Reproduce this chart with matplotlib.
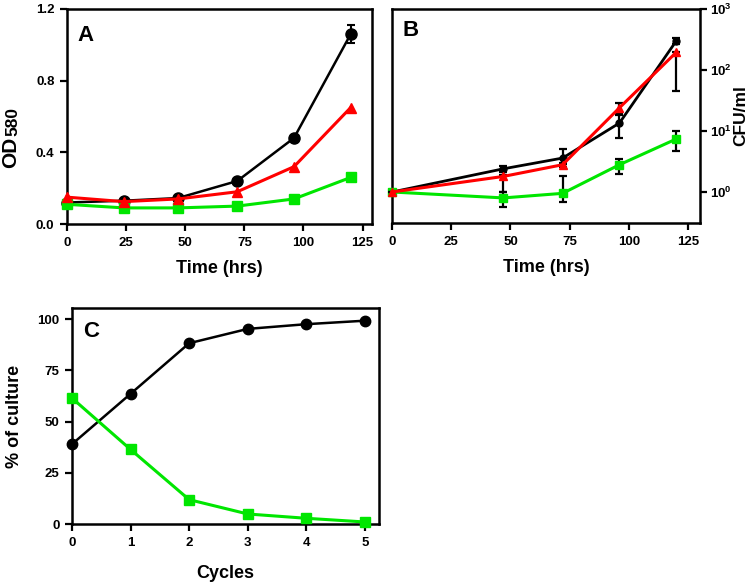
import matplotlib
matplotlib.use("Agg")
import matplotlib.pyplot as plt
import numpy as np
from matplotlib.ticker import FixedLocator, NullLocator, FixedFormatter

plt.rcParams["font.family"] = ["Liberation Sans", "DejaVu Sans"]
plt.rcParams["font.weight"] = "bold"
plt.rcParams["mathtext.fontset"] = "custom"
plt.rcParams["mathtext.rm"] = "Liberation Sans:bold"
plt.rcParams["mathtext.bf"] = "Liberation Sans:bold"

BLACK = "black"
RED = "#ff0000"
GREEN = "#00e600"

# Panel A: OD580 vs time
time_a = [0, 24, 47, 72, 96, 120]
od_black = [0.12, 0.13, 0.145, 0.24, 0.48, 1.06]
od_black_err = [0.0, 0.0, 0.0, 0.0, 0.0, 0.05]
od_red = [0.15, 0.125, 0.14, 0.18, 0.32, 0.65]
od_green = [0.11, 0.09, 0.09, 0.10, 0.14, 0.26]

# Panel B: CFU/ml vs time (log)
time_b = [0, 47, 72, 96, 120]
cfu_black = [1.0, 2.4, 3.6, 13.5, 300]
cfu_black_lo = [0.92, 2.1, 2.9, 7.7, 270]
cfu_black_hi = [1.08, 2.7, 5.0, 18, 330]
cfu_red = [1.0, 1.8, 2.8, 24, 195]
cfu_red_lo = [1.0, 1.0, 2.6, 20, 45]
cfu_red_hi = [1.0, 1.9, 3.0, 29, 200]
cfu_green = [1.0, 0.8, 0.95, 2.8, 7.4]
cfu_green_lo = [0.92, 0.57, 0.69, 2.0, 4.7]
cfu_green_hi = [1.08, 1.0, 1.8, 3.5, 10.0]

# Panel C: % of culture vs cycles
cycles = [0, 1, 2, 3, 4, 5]
pct_black = [39, 63.6, 88.3, 95.3, 97.6, 99.3]
pct_green = [61.5, 36.4, 11.9, 4.9, 2.8, 1.0]


def style_axes(ax):
    for sp in ax.spines.values():
        sp.set_linewidth(1.8)
    ax.tick_params(direction="out", length=5, width=1.6, labelsize=9.5, pad=4)
    for lab in ax.get_xticklabels() + ax.get_yticklabels():
        lab.set_fontweight("bold")


fig = plt.figure(figsize=(7.5, 5.84), dpi=100)

# ---- A ----
ax_a = fig.add_axes([0.0893, 0.6164, 0.4067, 0.3682])
ax_a.errorbar(time_a, od_black, yerr=od_black_err, color=BLACK, lw=1.8,
              marker="o", ms=8, capsize=3, elinewidth=1.5, capthick=1.5,
              clip_on=False, zorder=3)
ax_a.plot(time_a, od_green, color=GREEN, lw=2.2, marker="s", ms=7.5,
          clip_on=False, zorder=4)
ax_a.plot(time_a, od_red, color=RED, lw=2.2, marker="^", ms=7.5,
          clip_on=False, zorder=5)
ax_a.set_xlim(0, 129)
ax_a.set_ylim(0, 1.2)
ax_a.set_xticks([0, 25, 50, 75, 100, 125])
ax_a.set_yticks([0.0, 0.4, 0.8, 1.2])
ax_a.set_yticklabels(["0.0", "0.4", "0.8", "1.2"])
ax_a.set_xlabel("Time (hrs)", fontsize=13, fontweight="bold", labelpad=8)
ax_a.text(-0.184, 0.335, "OD", rotation=90, ha="center", va="center",
          fontsize=15, fontweight="bold", transform=ax_a.transAxes)
ax_a.text(-0.176, 0.478, "580", rotation=90, ha="center", va="center",
          fontsize=12.5, fontweight="bold", transform=ax_a.transAxes)
ax_a.text(0.033, 0.875, "A", transform=ax_a.transAxes, fontsize=16,
          fontweight="bold", va="center")
style_axes(ax_a)

# ---- B ----
ax_b = fig.add_axes([0.5227, 0.6181, 0.4106, 0.3665])
ax_b.set_yscale("log")


def err(y, lo, hi):
    y = np.asarray(y)
    return [y - np.asarray(lo), np.asarray(hi) - y]


ax_b.errorbar(time_b, cfu_black, yerr=err(cfu_black, cfu_black_lo, cfu_black_hi),
              color=BLACK, lw=2.0, marker="o", ms=5, capsize=3,
              elinewidth=1.6, capthick=1.6, ecolor=BLACK, clip_on=False, zorder=3)
ax_b.errorbar(time_b, cfu_green, yerr=err(cfu_green, cfu_green_lo, cfu_green_hi),
              color=GREEN, lw=2.2, marker="s", ms=5.5, capsize=3,
              elinewidth=1.6, capthick=1.6, ecolor=BLACK, clip_on=False, zorder=4)
ax_b.errorbar(time_b, cfu_red, yerr=err(cfu_red, cfu_red_lo, cfu_red_hi),
              color=RED, lw=2.2, marker="^", ms=5.5, capsize=3,
              elinewidth=1.6, capthick=1.6, ecolor=BLACK, clip_on=False, zorder=5)
ax_b.set_xlim(0, 130)
ax_b.set_ylim(0.31, 1000)
ax_b.set_xticks([0, 25, 50, 75, 100, 125])
ax_b.yaxis.tick_right()
ax_b.yaxis.set_label_position("right")
ax_b.yaxis.set_major_locator(FixedLocator([1, 10, 100, 1000]))
ax_b.yaxis.set_major_formatter(FixedFormatter(
    [r"$10^{0}$", r"$10^{1}$", r"$10^{2}$", r"$10^{3}$"]))
ax_b.yaxis.set_minor_locator(NullLocator())
ax_b.set_xlabel("Time (hrs)", fontsize=13, fontweight="bold", labelpad=8)
ax_b.text(0.035, 0.9, "B", transform=ax_b.transAxes, fontsize=16,
          fontweight="bold", va="center")
style_axes(ax_b)
ax_b.tick_params(axis="y", pad=2)
ax_b.set_ylabel("CFU/ml", fontsize=12.5, fontweight="bold", labelpad=1)

# ---- C ----
ax_c = fig.add_axes([0.096, 0.1027, 0.4093, 0.3699])
ax_c.plot(cycles, pct_black, color=BLACK, lw=1.8, marker="o", ms=7.5,
          clip_on=False, zorder=3)
ax_c.plot(cycles, pct_green, color=GREEN, lw=2.2, marker="s", ms=7.5,
          clip_on=False, zorder=4)
ax_c.set_xlim(0, 5.24)
ax_c.set_ylim(0, 105.5)
ax_c.set_xticks(cycles)
ax_c.set_yticks([0, 25, 50, 75, 100])
ax_c.set_xlabel("Cycles", fontsize=13, fontweight="bold", labelpad=12)
ax_c.set_ylabel("% of culture", fontsize=13, fontweight="bold", labelpad=10)
ax_c.text(0.036, 0.893, "C", transform=ax_c.transAxes, fontsize=16,
          fontweight="bold", va="center")
style_axes(ax_c)

fig.savefig("out.png", dpi=100)
